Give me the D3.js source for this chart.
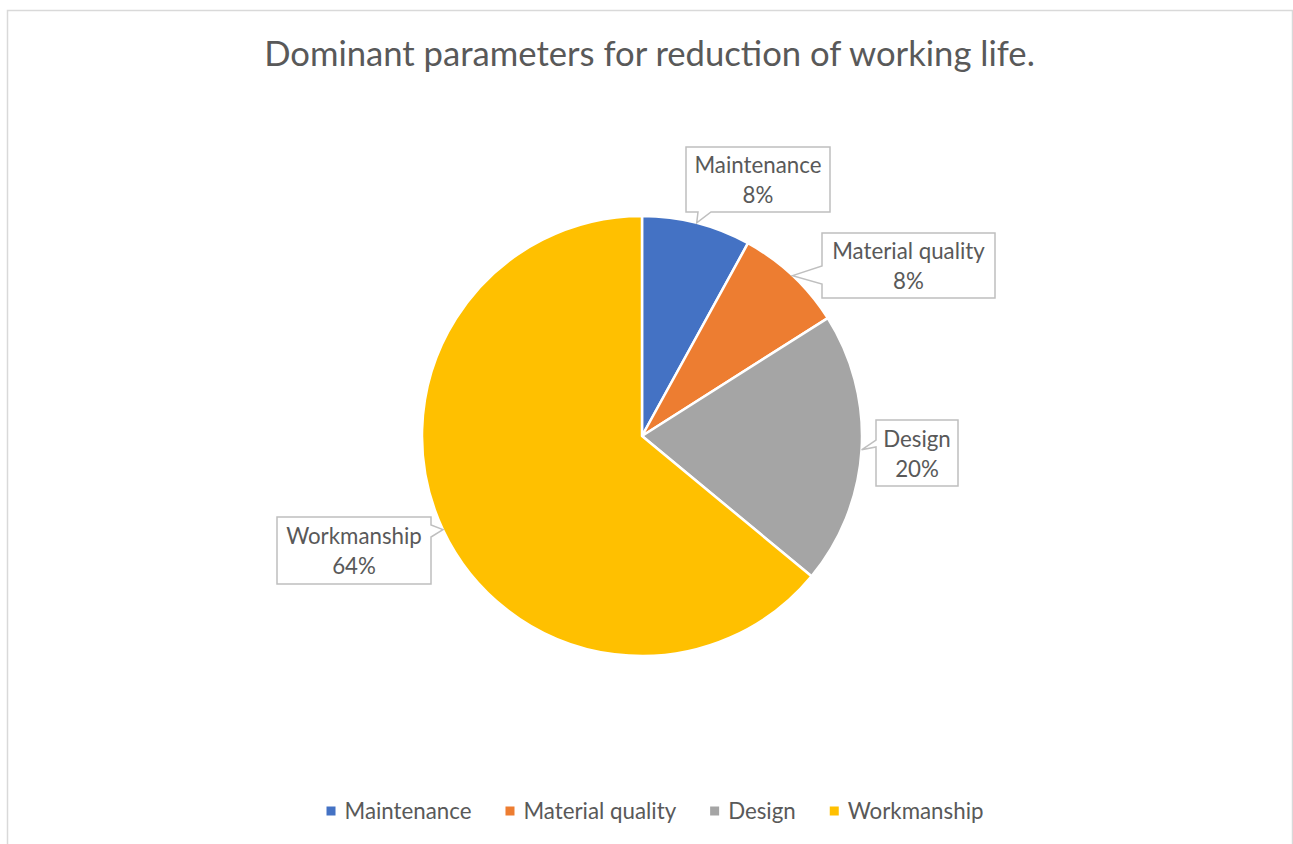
<!DOCTYPE html>
<html><head><meta charset="utf-8">
<script src="https://cdn.jsdelivr.net/npm/d3@7"></script>
<style>body{margin:0;background:#fff}svg{display:block}</style></head>
<body>
<svg id="c" width="1293" height="844"></svg>
<script>
// ---- data ----
const categories = ["Maintenance", "Material quality", "Design", "Workmanship"];
const values = [8, 8, 20, 64];
const colors = ["#4472C4", "#ED7D31", "#A5A5A5", "#FFC000"];
const chartTitle = "Dominant parameters for reduction of working life.";

// ---- layout (callout boxes: position, size, side of wedge and wedge base) ----
const callouts = [
  {x: 686, y: 147, w: 144, h: 65, side: "bottom", b0: 698, b1: 711},
  {x: 822, y: 233, w: 173, h: 65, side: "left", b0: 266, b1: 284},
  {x: 876, y: 420, w: 82, h: 66, side: "left", b0: 440, b1: 447},
  {x: 277, y: 517, w: 154, h: 67, side: "right", b0: 525, b1: 537}
];

const svg = d3.select("#c");
const textColor = "#595959";
const font = "Lato, 'Open Sans', sans-serif";

svg.append("rect").attr("x", 7.5).attr("y", 10.5).attr("width", 1285).attr("height", 845)
  .attr("fill", "#fff").attr("stroke", "#d9d9d9").attr("stroke-width", 1.5);

function fitSize(text, target) {
  const t = svg.append("text").attr("font-family", font).attr("font-size", 100).text(text);
  const w = t.node().getComputedTextLength();
  t.remove();
  return 100 * target / w;
}

// title
const titleSize = fitSize(chartTitle, 771);
svg.append("text").attr("x", 649.5).attr("y", 66)
  .attr("text-anchor", "middle").attr("font-family", font).attr("font-size", titleSize)
  .attr("fill", textColor).text(chartTitle);

const labelSize = fitSize("Maintenance", 127);

// pie
const cx = 642, cy = 436, r = 220;
const pie = d3.pie().sort(null).value(d => d)(values);
const arc = d3.arc().innerRadius(0).outerRadius(r);
const g = svg.append("g").attr("transform", `translate(${cx},${cy})`);
g.selectAll("path").data(pie).join("path")
  .attr("d", arc).attr("fill", (d, i) => colors[i])
  .attr("stroke", "#fff").attr("stroke-width", 2.5).attr("stroke-linejoin", "round");

const total = d3.sum(values);
const pct = d3.format(".0%");

// callouts
pie.forEach((d, i) => {
  const c = callouts[i];
  const mid = (d.startAngle + d.endAngle) / 2;
  const tx = cx + r * Math.sin(mid), ty = cy - r * Math.cos(mid);
  const x0 = c.x, y0 = c.y, x1 = c.x + c.w, y1 = c.y + c.h;
  let p;
  if (c.side === "bottom") {
    p = [[x0, y0], [x1, y0], [x1, y1], [c.b1, y1], [tx, ty], [c.b0, y1], [x0, y1]];
  } else if (c.side === "left") {
    p = [[x0, y0], [x1, y0], [x1, y1], [x0, y1], [x0, c.b1], [tx, ty], [x0, c.b0]];
  } else {
    p = [[x0, y0], [x1, y0], [x1, c.b0], [tx, ty], [x1, c.b1], [x1, y1], [x0, y1]];
  }
  svg.append("path").attr("d", d3.line()(p) + "Z")
    .attr("fill", "#fff").attr("stroke", "#bfbfbf").attr("stroke-width", 1.5);
  const mx = c.x + c.w / 2, my = c.y + c.h / 2;
  svg.append("text").attr("x", mx).attr("y", my - 14).attr("dy", "0.35em")
    .attr("text-anchor", "middle").attr("font-family", font).attr("font-size", labelSize)
    .attr("fill", textColor).text(categories[i]);
  svg.append("text").attr("x", mx).attr("y", my + 16).attr("dy", "0.35em")
    .attr("text-anchor", "middle").attr("font-family", font).attr("font-size", labelSize)
    .attr("fill", textColor).text(pct(values[i] / total));
});

// legend
const sq = 9, gapIn = 9, gapOut = 34;
const leg = svg.append("g");
let xpos = 0;
categories.forEach((name, i) => {
  const t = leg.append("text").attr("font-family", font).attr("font-size", labelSize)
    .attr("fill", textColor).attr("y", 811).attr("dy", "0.35em").text(name);
  const tw = t.node().getComputedTextLength();
  leg.append("rect").attr("x", xpos).attr("y", 811 - sq / 2).attr("width", sq).attr("height", sq)
    .attr("fill", colors[i]);
  t.attr("x", xpos + sq + gapIn);
  xpos += sq + gapIn + tw + gapOut;
});
const legW = xpos - gapOut;
leg.attr("transform", `translate(${655 - legW / 2},0)`);
</script>
</body></html>
